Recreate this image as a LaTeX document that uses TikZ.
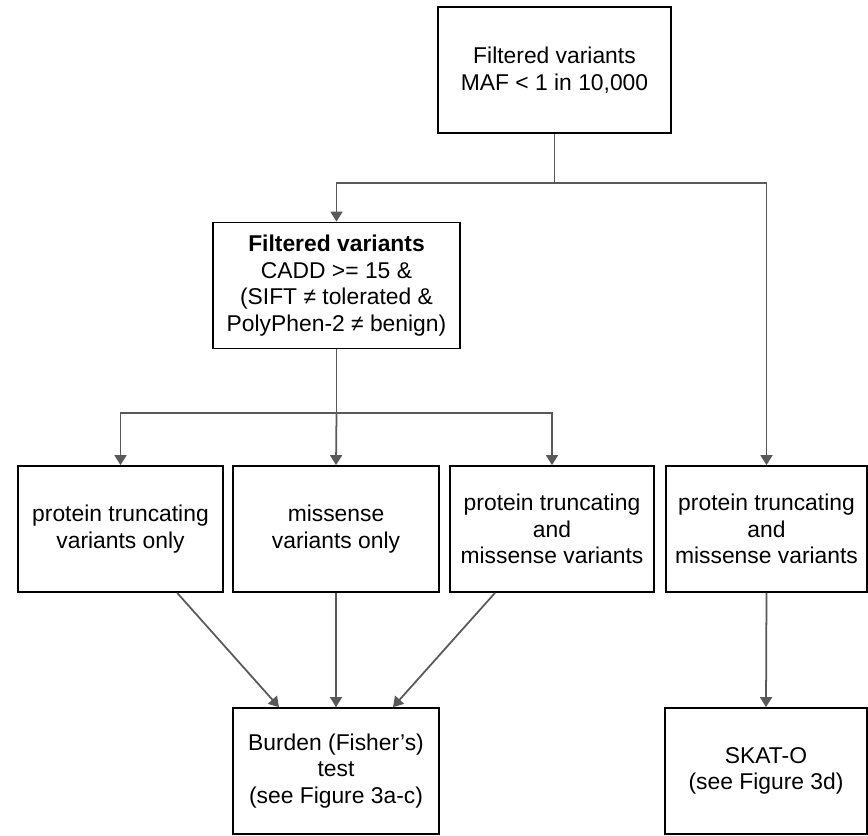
\documentclass[tikz,border=0pt]{standalone}
\usepackage{fontspec}
\setmainfont{Liberation Sans}
\usetikzlibrary{arrows.meta}
\definecolor{linegray}{HTML}{595959}

\begin{document}
\begin{tikzpicture}[x=0.03cm, y=-0.03cm,
    box/.style={draw=black, line width=1.5pt, align=center, inner sep=0pt,
        minimum height=3.78cm, font=\fontsize{19.5}{22.8}\selectfont},
    conn/.style={draw=linegray, line width=1.5pt},
    arr/.style={conn, -{Triangle[width=0.36cm, length=0.3cm]}}]
        \useasboundingbox (0,0) rectangle (868,835);

        \node[box, minimum width=6.99cm] (maf) at (554.5,70) {Filtered variants\\MAF < 1 in 10,000};
        \node[box, minimum width=7.41cm] (cadd) at (336.5,285.5) {\textbf{Filtered variants}\\CADD >= 15 \&\\(SIFT ≠ tolerated \&\\PolyPhen-2 ≠ benign)};

        \node[box, minimum width=6.15cm] (ptv) at (120.5,529) {protein truncating\\variants only};
        \node[box, minimum width=6.18cm] (mis) at (336,529) {missense\\variants only};
        \node[box, minimum width=6.12cm] (both) at (552,529) {protein truncating\\and\\missense variants};
        \node[box, minimum width=6.03cm] (bothr) at (766.5,529) {protein truncating\\and\\missense variants};

        \node[box, minimum width=6.18cm] (burden) at (336,771) {Burden (Fisher’s)\\test\\(see Figure 3a-c)};
        \node[box, minimum width=6.06cm] (skat) at (766,771) {SKAT-O\\(see Figure 3d)};

        \coordinate (split1) at (554.5,183);
        \coordinate (split2) at (336.5,413);

        \draw[conn] (maf) -- (split1);
        \draw[arr] (split1) -| (cadd.north);
        \draw[arr] (split1) -| (bothr.north);

        \draw[conn] (cadd) -- (split2);
        \draw[arr] (split2) -| (ptv.north);
        \draw[arr] (split2) -- (mis.north);
        \draw[arr] (split2) -| (both.north);

        \draw[arr] ([xshift=1.7cm]ptv.south) -- ([xshift=-1.71cm]burden.north);
        \draw[arr] (mis.south) -- (burden.north);
        \draw[arr] ([xshift=-1.71cm]both.south) -- ([xshift=1.71cm]burden.north);
        \draw[arr] (bothr.south) -- (skat.north);
        \end{tikzpicture}
\end{document}
